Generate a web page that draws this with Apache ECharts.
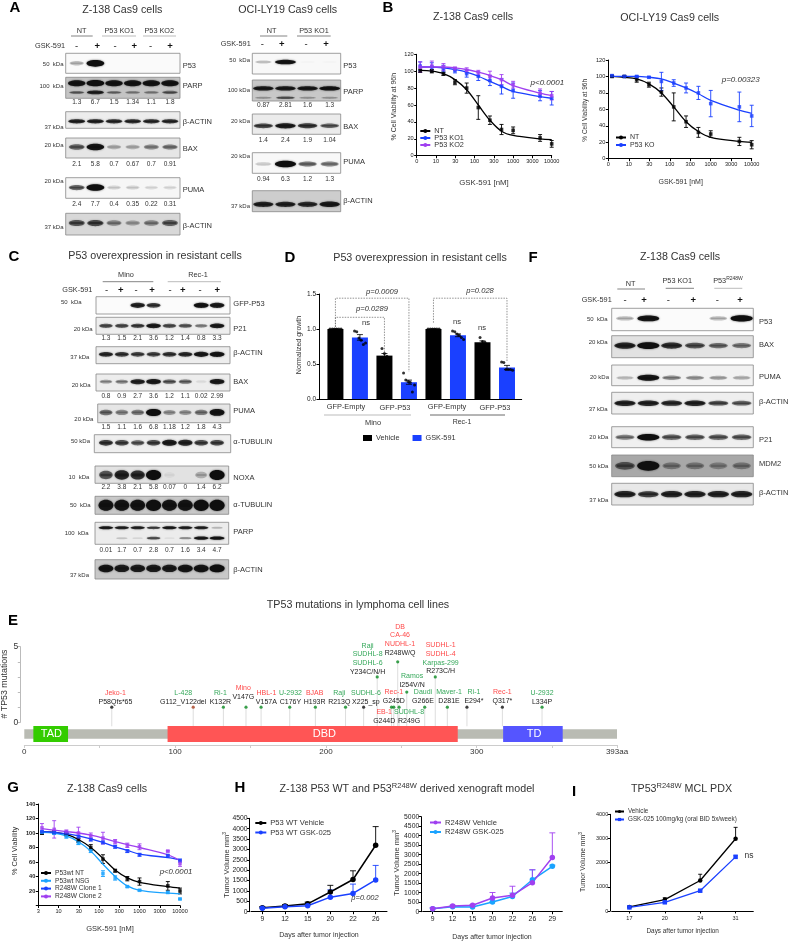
<!DOCTYPE html>
<html><head><meta charset="utf-8">
<style>html,body{margin:0;padding:0;background:#fff}#c{width:791px;height:941px}</style>
<script src="https://cdn.jsdelivr.net/npm/echarts@6/dist/echarts.min.js"></script>
</head><body><div id="c"></div>
<script>
// ---------- data: western blot band intensities (0-1) per lane, quantification labels ----------
const a1P53=[.3,1,0,0,0,0], a1ParpUp=[.95,1,.95,.95,.95,.95], a1ParpLow=[.5,.85,.45,.4,.4,.55], a1Actin=[.85,.85,.8,.8,.8,.8],
      a1Bax=[.6,.95,.3,.3,.45,.5], a1Puma=[.6,1,.2,.2,.15,.15], a1Actin2=[.65,.7,.45,.35,.45,.6];
const a1QParp=['1.3','6.7','1.5','1.34','1.1','1.8'], a1QBax=['2.1','5.8','0.7','0.67','0.7','0.91'], a1QPuma=['2.4','7.7','0.4','0.35','0.22','0.31'];
const a2P53=[.25,.95,.03,.03], a2ParpUp=[.9,.9,.9,.95], a2ParpLow=[.3,.6,.3,.3], a2Bax=[.7,.9,.75,.6], a2Puma=[.2,1,.55,.5], a2Actin=[.85,.85,.8,.9];
const a2QParp=['0.87','2.81','1.6','1.3'], a2QBax=['1.4','2.4','1.9','1.04'], a2QPuma=['0.94','6.3','1.2','1.3'];
const cGfp=[0,0,.85,.75,0,0,.95,.9], cP21=[.65,.65,.7,.9,.65,.6,.45,.9], cActin=[.8,.75,.7,.7,.75,.8,.9,.95], cBax=[.4,.45,.85,.9,.6,.55,.1,.9],
      cPuma=[.55,.45,.5,1,.4,.4,.5,.95], cTub=[.75,.7,.6,.7,.9,.85,.7,.7], cNoxa=[.65,.85,.8,1,.08,0,.3,1], cTub2=[.95,.95,.95,1,.95,.95,1,1],
      cParpUp=[.9,.85,.85,.7,.9,.85,.85,.25], cParpLow=[0,.2,.12,.65,.08,.4,.9,.95], cActin2=[.95,.9,.9,.9,.9,.95,.95,1];
const cQP21=['1.3','1.5','2.1','3.6','1.2','1.4','0.8','3.3'], cQBax=['0.8','0.9','2.7','3.6','1.2','1.1','0.02','2.99'], cQPuma=['1.5','1.1','1.6','6.8','1.18','1.2','1.8','4.3'],
      cQNoxa=['2.2','3.8','2.1','5.8','0.07','0','1.4','6.2'], cQParp=['0.01','1.7','0.7','2.8','0.7','1.6','3.4','4.7'];
const fP53=[.3,.95,0,0,.3,1], fBax=[.85,1,.8,.65,.55,.5], fPuma=[.25,.95,.45,.4,.35,.3], fActin=[.85,.85,.8,.85,.65,.6], fP21=[.5,1,.6,.6,.6,.6], fMdm2=[.6,1,.4,.4,.35,.4], fActin2=[.85,.75,.85,.85,.85,.85];
// ---------- data: dose response ----------
const doses=[3.9,7.8,15.6,31,62.5,125,250,500,1000,5000,10000];
const bTicks=['0','10','30','100','300','1000','3000','10000'];
const gTicks=['3','10','30','100','300','1000','3000','10000'];
const b1NtMean=[100.5,100,97,87,80,57,42,31,30,21,14], b1NtErr=[2,2,2,3,6,14,5,6,4,4,4], b1NtFit=[101,100,97,90,78,60,42,29,24,20,19];
const b1Ko1Mean=[106,105,103,101,97,94,89,82,77,71,68], b1Ko1Err=[5,5,4,3,4,5,6,9,9,6,8], b1Ko1Fit=[105,105,104,102,99,94,88,82,76,70,68];
const b1Ko2Mean=[105,106,105,103,101,98,94,90,84,74,71], b1Ko2Err=[6,6,4,2,3,3,6,6,4,5,5], b1Ko2Fit=[105,105,105,104,102,99,95,90,83,74,71];
const b2NtMean=[100,100,96,90,81,63,45,32,30,21,17], b2NtErr=[1,1,3,3,5,17,7,6,4,5,5], b2NtFit=[100,99,97,91,80,63,45,33,26,21,20];
const b2KoMean=[101,100,100,99,94,92,86,80,67,63,52], b2KoErr=[1,1,1,1,11,4,6,8,16,18,13], b2KoFit=[100,100,100,99,97,92,86,79,71,59,55];
const gNtMean=[100,101,98,90,80,64,48,37,33,27,20], gNtErr=[2,2,2,3,4,6,2,3,5,6,4], gNtFit=[102,101,98,91,80,65,49,38,32,26,24];
const gNsgMean=[101,100,95,86,75,44,38,26,21,18,9], gNsgErr=[1,2,2,2,2,4,3,1,1,1,1], gNsgFit=[101,100,96,88,75,57,40,27,21,17,16];
const gC1Mean=[102,101,100,95,91,87,81,75,70,69,62], gC1Err=[1,1,1,2,2,2,2,2,2,1,2], gC1Fit=[102,101,99,96,92,87,81,76,71,66,63];
const gC2Mean=[107,105,102,100,96,93,88,83,81,75,58], gC2Err=[6,12,2,8,4,8,3,3,4,1,4], gC2Fit=[106,104,102,100,97,93,88,84,80,70,62];
// ---------- data: panel D ----------
const dVehicle=[1,.62,1,.81], dVehicleErr=[0,.03,0,.02], dGsk=[.88,.24,.91,.45], dGskErr=[.04,.03,.02,.03];
const dDots=[[1,1,1,1,1,1],[.97,.96,.87,.84,.78,.8],[.72,.65,.61],[.37,.27,.25,.24,.1,.2],[1,1,1,1,1,1],[.97,.96,.93,.91,.88,.85],[.88,.82,.81],[.53,.52,.42,.42,.42,.41]];
const dBrackets=[[0,3,1.44,1.03,.39],[0,2,1.167,1.03,.65],[4,7,1.44,1.09,.53]];
// ---------- data: panel E ----------
const eMutNames=['P58Qfs*65','G112_V122del','K132R','V147G','V157A','C176Y','H193R','R213Q','X225_sp','Y234C/N/H','G245D','G244D','R248W/Q','R249G','I254V/N','G266E','R273C/H','D281E','E294*','Q317*','L334P'];
const eMutPos=[58,112,132,147,157,176,193,213,225,234,245,243.5,247.6,248.5,253.6,265.5,272.5,280.5,293.5,317,343.3];
const eMutCount=[1,1,1,1,1,1,1,1,1,3,1,1,4,1,2,1,3,1,1,1,1];
const R='#ff4a4a',G='#35a85a',K='#111',B='#a84020',DG='#0a8a20';
const eDotColor=[K,B,DG,DG,DG,DG,DG,DG,K,DG,DG,DG,DG,DG,DG,DG,DG,DG,K,K,DG];
const eCells=[[['Jeko-1',R]],[['L-428',G]],[['Ri-1',G]],[['Mino',R]],[['HBL-1',R]],[['U-2932',G]],[['BJAB',R]],[['Raji',G]],[['SUDHL-6',G]],
 [['SUDHL-6',G],['SUDHL-8',G],['Raji',G]],[['Rec-1',R]],[['EB-1',R]],[['NUDHL-1',R],['CA-46',R],['DB',R]],[['SUDHL-8',G]],[['Ramos',G]],[['Daudi',G]],
 [['Karpas-299',G],['SUDHL-4',R],['SUDHL-1',R]],[['Maver-1',G]],[['Ri-1',G]],[['Rec-1',R]],[['U-2932',G]]];
const eLabelDx=[3.7,-10,-3,-2.7,5.3,.7,-.7,-6.3,2.3,-9.6,0,-7.3,2.3,10,5.3,-1.7,5.4,1.7,7,0,0];
const eLabelDy=[-5.6,-5.6,-5.6,-10,-5.6,-5.6,-5.6,-5.6,-5.6,-5,-6,14,-9,14,-7,-6,-5.4,-6,-6,-6,-5.6];
const eDomStart=[6,95,317.5], eDomEnd=[29,287.4,357], eDomName=['TAD','DBD','TD'], eDomColor=['#33cc00','#ff5555','#5555ff'], eDomLabelPos=[18,199,338];
const eProteinLength=393;
// ---------- data: tumour growth ----------
const hLeftDays=['9','12','15','20','22','26'];
const hWtVeh=[190,280,380,950,1550,3200], hWtVehErr=[60,60,80,320,420,900], hWtGsk=[170,240,290,700,880,1530], hWtGskErr=[30,40,60,350,450,700];
const hRightDays=['9','12','15','20','22','26','29'];
const hMutVeh=[160,300,340,720,860,1530,2850], hMutVehErr=[60,40,40,290,480,680,1300], hMutGsk=[150,260,250,510,800,1680,2390], hMutGskErr=[30,30,40,40,180,520,60];
const iDays=['17','20','24','31'];
const iVeh=[170,470,1260,2990], iVehErr=[30,80,260,470], iGsk=[150,360,840,2240], iGskErr=[20,30,40,60];

// ---------- helpers ----------
const FF='Liberation Sans', TXT='#333', BLACK='#000', BLUE='#1a40ff', PURPLE='#a040f0', CYAN='#1aa3ff';
const grids=[],xAxes=[],yAxes=[],series=[],legends=[],gfx=[];
function addGrid(x0,x1,y0,y1){grids.push({left:x0,top:y0,width:x1-x0,height:y1-y0,containLabel:false});return grids.length-1;}
function text(x,y,str,o={}){
  const size=o.size||7;
  const st={text:str,fill:o.color||TXT,fontFamily:FF,fontSize:size,fontStyle:o.italic?'italic':'normal',fontWeight:o.bold?'bold':'normal',
    font:`${o.italic?'italic ':''}${o.bold?'bold ':''}${size}px "${FF}"`,
    align:o.align||'center',verticalAlign:'middle',textAlign:o.align||'center',textVerticalAlign:'middle'};
  if(o.rich)st.rich=o.rich;
  gfx.push({type:'text',x,y,rotation:o.rot||0,silent:true,style:st});
}
function rule(x1,x2,y,color){gfx.push({type:'line',silent:true,shape:{x1,y1:y,x2,y2:y},style:{stroke:color||'#666',lineWidth:.8}});}
function supRich(size,sup,raise){const r=raise||3;return {a:{fontSize:size,fontFamily:FF,fill:TXT,lineHeight:sup+2*r},s:{fontSize:sup,fontFamily:FF,fill:TXT,lineHeight:sup,verticalAlign:'top'}};}

function blot(c){
  const n=c.bands[0].lanes.length;
  const g=addGrid(c.l,c.r,c.y0,c.y1);
  const quant=c.quant||Array(n).fill('');
  xAxes.push({gridIndex:g,type:'category',data:quant,boundaryGap:true,axisLine:{show:false},axisTick:{show:false},splitLine:{show:false},
    axisLabel:{show:!!c.quant,interval:0,fontSize:6.5,color:TXT,fontFamily:FF,margin:Math.max(0,(c.qy||0)-c.y1-3.5)}});
  yAxes.push({gridIndex:g,type:'value',min:0,max:1,show:false});
  const rows=[];
  c.bands.forEach(b=>b.lanes.forEach((v,i)=>rows.push([i,b.y,v,b.t])));
  const bg=c.bg, fx0=c.x0, fx1=c.x1, y0=c.y0, h=c.y1-c.y0;
  series.push({type:'custom',name:'blot '+c.name,xAxisIndex:g,yAxisIndex:g,silent:true,encode:{x:0,y:1},data:rows,
    renderItem:(p,api)=>{
      const kids=[];
      if(p.dataIndex===0)kids.push({type:'rect',shape:{x:fx0,y:y0,width:fx1-fx0,height:h},style:{fill:bg,stroke:'#888',lineWidth:.8}});
      const v=api.value(2);
      if(v>0){
        const pt=api.coord([api.value(0),api.value(1)]),band=api.size([1,0])[0];
        const w=band*(.68+.27*v),th=api.value(3)*h*(.55+.5*v),op=Math.pow(v,1.25);
        const blur={fill:`rgba(15,15,15,${op})`,shadowBlur:2,shadowColor:`rgba(15,15,15,${op*.7})`};
        kids.push({type:'ellipse',shape:{cx:pt[0],cy:pt[1],rx:w/2,ry:th/2},style:blur});
        kids.push({type:'rect',shape:{x:pt[0]-w*.42,y:pt[1]-th*.16,width:w*.84,height:th*.32,r:th*.16},style:{fill:`rgba(15,15,15,${op*.8})`}});
      }
      return {type:'group',children:kids};
    }});
  text(c.nx,c.ny,c.name,{size:7.5,align:'left'});
  if(c.kda)text(c.kx,c.ky,c.kda,{size:6,align:'right'});
}
function axisBase(g,extra){return Object.assign({gridIndex:g,axisLine:{show:true,onZero:false,lineStyle:{color:'#000',width:1}},axisTick:{show:true,length:2.5,lineStyle:{color:'#000',width:1}},splitLine:{show:false},
  axisLabel:{fontSize:6,color:'#222',fontFamily:FF,margin:3}},extra);}
function errSeries(g,pts,color,lower,cap,w){
  series.push({type:'custom',name:'err',xAxisIndex:g,yAxisIndex:g,silent:true,encode:{x:0,y:1},data:pts,z:3,
    renderItem:(p,api)=>{
      const x=api.value(0),m=api.value(1),e=api.value(2);
      const hi=api.coord([x,m+e]),lo=api.coord([x,lower?m-e:m]);
      const style={stroke:color,lineWidth:w||.9,fill:'none'};
      const kids=[{type:'line',shape:{x1:hi[0],y1:hi[1],x2:lo[0],y2:lo[1]},style},
        {type:'line',shape:{x1:hi[0]-cap,y1:hi[1],x2:hi[0]+cap,y2:hi[1]},style}];
      if(lower)kids.push({type:'line',shape:{x1:lo[0]-cap,y1:lo[1],x2:lo[0]+cap,y2:lo[1]},style});
      return {type:'group',children:kids};
    }});
}
function doseCurve(g,name,color,mean,err,fit){
  const lx=doses.map(d=>Math.log10(d));
  errSeries(g,lx.map((x,i)=>[x,mean[i],err[i]]),color,true,2,.9);
  series.push({type:'line',name,xAxisIndex:g,yAxisIndex:g,data:lx.map((x,i)=>[x,fit[i]]),smooth:.35,showSymbol:false,symbol:'circle',symbolSize:3.5,lineStyle:{color,width:1.3},itemStyle:{color},z:4});
  series.push({type:'scatter',name:name+' points',xAxisIndex:g,yAxisIndex:g,data:lx.map((x,i)=>[x,mean[i]]),symbol:'rect',symbolSize:3.6,itemStyle:{color},z:5,silent:true});
}
function doseAxes(g,ticks,yMax,yInt,hideZero){
  xAxes.push(axisBase(g,{type:'value',min:.5,max:4,interval:.5,axisLabel:{fontSize:5.6,color:'#222',fontFamily:FF,margin:3,formatter:v=>ticks[Math.round((v-.5)/.5)]}}));
  const y=axisBase(g,{type:'value',min:0,max:yMax,interval:yInt});
  y.axisLabel.fontSize=5.6;
  if(hideZero)y.axisLabel.formatter=v=>v===0?'':v;
  yAxes.push(y);
}
function legend(left,top,names,o={}){
  legends.push({show:true,left,top,orient:o.orient||'vertical',padding:0,itemGap:o.gap===undefined?0.5:o.gap,itemWidth:o.w||10,itemHeight:o.h||5,selectedMode:false,data:names.map(n=>o.icon?{name:n,icon:o.icon}:{name:n}),
    textStyle:{fontSize:o.size||7,color:TXT,fontFamily:FF,padding:[0,0,0,-1]}});
}
function growth(g,data,err,name,color,symbol,size,cap,lw){
  errSeries(g,data.map((v,i)=>[i,v,err[i]]),color,false,cap||3,.9);
  series.push({type:'line',name,xAxisIndex:g,yAxisIndex:g,data:data.map((v,i)=>[i,v]),symbol,symbolSize:size,lineStyle:{color,width:lw||1.5},itemStyle:{color},z:4});
}
function catAxes(g,cats,yMax,yInt,size){
  xAxes.push(axisBase(g,{type:'category',data:cats,boundaryGap:true,axisTick:{show:true,alignWithLabel:true,length:2.5,lineStyle:{color:'#000'}},axisLabel:{fontSize:size||6.8,color:'#222',fontFamily:FF,margin:4,interval:0}}));
  yAxes.push(axisBase(g,{type:'value',min:0,max:yMax,interval:yInt,offset:1.5,axisLabel:{fontSize:size||6.8,color:'#222',fontFamily:FF,margin:2,formatter:v=>String(v)}}));
}

// ---------- panel letters and titles ----------
[['A',15,8],['B',388,8],['C',14,257],['D',290,258],['F',533,258],['E',13,621],['G',13,788],['H',240,788],['I',574,792]].forEach(l=>text(l[1],l[2],l[0],{size:15,bold:true,color:'#000'}));
const T=10.7;
text(122.3,10,'Z-138 Cas9 cells',{size:T});text(287.7,10,'OCI-LY19 Cas9 cells',{size:T});
text(473,17,'Z-138 Cas9 cells',{size:T});text(669.7,18,'OCI-LY19 Cas9 cells',{size:T});
text(155,256,'P53 overexpression in resistant cells',{size:T});text(420,258,'P53 overexpression in resistant cells',{size:T});
text(680,257,'Z-138 Cas9 cells',{size:T});
text(358,604.7,'TP53 mutations in lymphoma cell lines',{size:T});
text(107,789,'Z-138 Cas9 cells',{size:T});
text(407,789,'{a|Z-138 P53 WT and P53}{s|R248W}{a| derived xenograft model}',{rich:supRich(T,7.5)});
text(681.5,789,'{a|TP53}{s|R248W}{a| MCL PDX}',{rich:supRich(T,7.5)});

// ---------- blot headers ----------
function header(groups,gskX,gskY,signs,signY){
  groups.forEach(g=>{if(g.rich)text(g.c,g.y,g.t,{size:7,rich:g.rich});else text(g.c,g.y,g.t,{size:7.3});rule(g.a,g.b,g.ly,g.lc);});
  text(gskX,gskY,'GSK-591',{size:7.3,align:'right'});
  signs.forEach((x,i)=>text(x,signY,i%2?'+':'-',{size:9.5,color:'#111',bold:i%2===1}));
}
header([{t:'NT',c:81.7,y:30.7,a:71,b:92.7,ly:36},{t:'P53 KO1',c:119.3,y:30.7,a:102,b:136,ly:36,lc:'#aaa'},{t:'P53 KO2',c:159.3,y:30.7,a:143,b:176,ly:36,lc:'#aaa'}],65,46,[76.7,97.3,115,134.3,150.7,170],46);
header([{t:'NT',c:271.7,y:31,a:260,b:287.3,ly:36},{t:'P53 KO1',c:314,y:31,a:297,b:330.7,ly:36}],250.7,44,[262.3,281.7,306,326],44);
header([{t:'Mino',c:126,y:275,a:102.7,b:153.3,ly:281.7},{t:'Rec-1',c:198,y:275,a:167.7,b:221,ly:281.7,lc:'#aaa'}],92.3,290,[106.7,120.7,136,152,170,182.7,200,217.3],290.5);
header([{t:'NT',c:630.7,y:284,a:617.3,b:645,ly:289},{t:'P53 KO1',c:677.3,y:281,a:665.7,b:694,ly:288.3},{t:'{a|P53}{s|R248W}',c:728,y:281,a:714.3,b:742.3,ly:288.3,lc:'#aaa',rich:supRich(7.3,5,2.2)}],611.7,300,[625,644,668.3,693.3,717.3,740],300);

// ---------- panel A blots ----------
const A1={x0:65.7,x1:180,l:67.4,r:179.3,nx:182.7}, A2={x0:252.3,x1:340.7,l:252.3,r:340.7,nx:343.3};
blot({...A1,y0:53.3,y1:73.3,bg:'#fafafa',name:'P53',ny:66,kda:'50  kDa',kx:63.5,ky:64,bands:[{lanes:a1P53,y:.5,t:.32}]});
blot({...A1,y0:77.3,y1:98.3,bg:'#c4c4c4',name:'PARP',ny:86,kda:'100  kDa',kx:63.5,ky:86,quant:a1QParp,qy:102,bands:[{lanes:a1ParpUp,y:.72,t:.28},{lanes:a1ParpLow,y:.28,t:.18}]});
blot({...A1,y0:111.7,y1:128.3,bg:'#ededed',name:'β-ACTIN',ny:121.7,kda:'37 kDa',kx:63.5,ky:127.7,bands:[{lanes:a1Actin,y:.42,t:.26}]});
blot({...A1,y0:138,y1:158,bg:'#e6e6e6',name:'BAX',ny:149,kda:'20 kDa',kx:63.5,ky:145,quant:a1QBax,qy:164,bands:[{lanes:a1Bax,y:.55,t:.32}]});
blot({...A1,y0:177.7,y1:198.3,bg:'#f6f6f6',name:'PUMA',ny:190,kda:'20 kDa',kx:63.5,ky:181,quant:a1QPuma,qy:204,bands:[{lanes:a1Puma,y:.52,t:.3}]});
blot({...A1,y0:213.3,y1:235,bg:'#d8d8d8',name:'β-ACTIN',ny:225.7,kda:'37 kDa',kx:63.5,ky:227,bands:[{lanes:a1Actin2,y:.55,t:.32}]});
blot({...A2,y0:53.3,y1:74,bg:'#f8f8f8',name:'P53',ny:66,kda:'50  kDa',kx:250,ky:60.7,bands:[{lanes:a2P53,y:.58,t:.22}]});
blot({...A2,y0:80,y1:101,bg:'#c8c8c8',name:'PARP',ny:91.7,kda:'100 kDa',kx:250,ky:90,quant:a2QParp,qy:105.3,bands:[{lanes:a2ParpUp,y:.6,t:.2},{lanes:a2ParpLow,y:.15,t:.14}]});
blot({...A2,y0:114,y1:134.3,bg:'#ebebeb',name:'BAX',ny:126.7,kda:'20 kDa',kx:250,ky:121.3,quant:a2QBax,qy:140.3,bands:[{lanes:a2Bax,y:.42,t:.26}]});
blot({...A2,y0:152.7,y1:173.3,bg:'#f8f8f8',name:'PUMA',ny:162.3,kda:'20 kDa',kx:250,ky:156.7,quant:a2QPuma,qy:179,bands:[{lanes:a2Puma,y:.45,t:.3}]});
blot({...A2,y0:190.7,y1:211.7,bg:'#cdcdcd',name:'β-ACTIN',ny:201.3,kda:'37 kDa',kx:250,ky:206,bands:[{lanes:a2Actin,y:.35,t:.26}]});

// ---------- panel C blots ----------
const C1={x0:96,x1:230,l:98,r:225,nx:233.3}, C2={x0:95,x1:228.7,l:98,r:225,nx:233.3};
blot({...C1,y0:296.7,y1:314,bg:'#fbfbfb',name:'GFP-P53',ny:304,kda:'50  kDa',kx:81.7,ky:302.7,bands:[{lanes:cGfp,y:.5,t:.3}]});
blot({...C1,y0:317.3,y1:334.3,bg:'#eeeeee',name:'P21',ny:329.3,kda:'20 kDa',kx:92.7,ky:329,quant:cQP21,qy:338,bands:[{lanes:cP21,y:.5,t:.28}]});
blot({...C1,y0:346.7,y1:363.7,bg:'#ededed',name:'β-ACTIN',ny:353,kda:'37 kDa',kx:89.3,ky:357.7,bands:[{lanes:cActin,y:.55,t:.3}]});
blot({...C1,y0:374,y1:391,bg:'#ededed',name:'BAX',ny:381.7,kda:'20 kDa',kx:90.7,ky:385.7,quant:cQBax,qy:396,bands:[{lanes:cBax,y:.55,t:.3}]});
blot({...C1,x0:97.7,y0:404,y1:422.7,bg:'#e6e6e6',name:'PUMA',ny:410.7,kda:'20 kDa',kx:93.3,ky:419,quant:cQPuma,qy:427.3,bands:[{lanes:cPuma,y:.55,t:.36}]});
blot({...C1,x0:94.3,x1:230.7,y0:434.7,y1:452.7,bg:'#efefef',name:'α-TUBULIN',ny:441.7,kda:'50 kDa',kx:90,ky:441.7,bands:[{lanes:cTub,y:.55,t:.34}]});
blot({...C2,y0:466,y1:483.3,bg:'#e2e2e2',name:'NOXA',ny:477.7,kda:'10  kDa',kx:89.3,ky:477.3,quant:cQNoxa,qy:486.7,bands:[{lanes:cNoxa,y:.48,t:.55}]});
blot({...C2,y0:496.3,y1:514.3,bg:'#c8c8c8',name:'α-TUBULIN',ny:505,kda:'50  kDa',kx:90.7,ky:505,bands:[{lanes:cTub2,y:.5,t:.6}]});
blot({...C2,y0:522.3,y1:544.3,bg:'#ececec',name:'PARP',ny:532,kda:'100  kDa',kx:88.7,ky:533,quant:cQParp,qy:550.7,bands:[{lanes:cParpUp,y:.75,t:.14},{lanes:cParpLow,y:.28,t:.14}]});
blot({...C2,y0:559.7,y1:579,bg:'#c8c8c8',name:'β-ACTIN',ny:570,kda:'37 kDa',kx:89,ky:575,bands:[{lanes:cActin2,y:.55,t:.38}]});

// ---------- panel F blots ----------
const F1={x0:611.7,x1:753.3,l:613.3,r:753.3,nx:759};
blot({...F1,y0:308.3,y1:330.7,bg:'#fbfbfb',name:'P53',ny:321.7,kda:'50  kDa',kx:607.7,ky:319,bands:[{lanes:fP53,y:.55,t:.26}]});
blot({...F1,y0:335.7,y1:357.7,bg:'#e2e2e2',name:'BAX',ny:345,kda:'20 kDa',kx:607.7,ky:342.3,bands:[{lanes:fBax,y:.55,t:.3}]});
blot({...F1,y0:365,y1:385.7,bg:'#f2f2f2',name:'PUMA',ny:376.7,kda:'20 kDa',kx:609,ky:377.7,bands:[{lanes:fPuma,y:.38,t:.28}]});
blot({...F1,y0:392.3,y1:414,bg:'#efefef',name:'β-ACTIN',ny:401.7,kda:'37 kDa',kx:607.7,ky:409,bands:[{lanes:fActin,y:.5,t:.26}]});
blot({...F1,y0:426.7,y1:447.7,bg:'#f0f0f0',name:'P21',ny:440,kda:'20 kDa',kx:608.3,ky:437.7,bands:[{lanes:fP21,y:.5,t:.3}]});
blot({...F1,y0:455,y1:476.7,bg:'#a8a8a8',name:'MDM2',ny:464.3,kda:'50 kDa',kx:608.3,ky:466.7,bands:[{lanes:fMdm2,y:.5,t:.42}]});
blot({...F1,y0:483.3,y1:505,bg:'#e8e8e8',name:'β-ACTIN',ny:493.3,kda:'37 kDa',kx:608.3,ky:500,bands:[{lanes:fActin2,y:.5,t:.3}]});

// ---------- panel B ----------
let g=addGrid(416.7,551.7,54.3,155.7);
doseAxes(g,bTicks,120,20);
doseCurve(g,'NT',BLACK,b1NtMean,b1NtErr,b1NtFit);
doseCurve(g,'P53 KO1',BLUE,b1Ko1Mean,b1Ko1Err,b1Ko1Fit);
doseCurve(g,'P53 KO2',PURPLE,b1Ko2Mean,b1Ko2Err,b1Ko2Fit);
legend(419.3,127.5,['NT','P53 KO1','P53 KO2'],{size:7.3,gap:0});
text(547.3,82.3,'p<0.0001',{size:8,italic:true});
text(394,106.7,'% Cell Viability at 96h',{size:7,rot:Math.PI/2});
text(484,182.7,'GSK-591 [nM]',{size:7.8});
g=addGrid(608.3,751.7,60,158.7);
doseAxes(g,bTicks,120,20);
doseCurve(g,'NT ',BLACK,b2NtMean,b2NtErr,b2NtFit);
doseCurve(g,'P53 KO',BLUE,b2KoMean,b2KoErr,b2KoFit);
legend(615,134,['NT ','P53 KO'],{size:7,gap:.5});
text(740.7,79.3,'p=0.00323',{size:8,italic:true});
text(585.3,110.3,'% Cell Viability at 96h',{size:6.5,rot:Math.PI/2});
text(680.7,182,'GSK-591 [nM]',{size:7});

// ---------- panel D ----------
g=addGrid(319,521.7,294,399);
const dOff=.67, dSlots=[0,2,4,6], dGskSlots=[1,3,5,7];
xAxes.push(axisBase(g,{type:'value',min:0,max:8.27,axisTick:{show:false},axisLabel:{show:false}}));
yAxes.push(axisBase(g,{type:'value',min:0,max:1.5,interval:.5,axisLabel:{fontSize:6.5,color:'#222',fontFamily:FF,margin:3,formatter:v=>v.toFixed(1)}}));
series.push({type:'bar',name:'Vehicle',xAxisIndex:g,yAxisIndex:g,barWidth:16,barGap:'-100%',data:dVehicle.map((v,i)=>[dSlots[i]+dOff,v]),itemStyle:{color:'#000'}});
series.push({type:'bar',name:'GSK-591',xAxisIndex:g,yAxisIndex:g,barWidth:16,barGap:'-100%',data:dGsk.map((v,i)=>[dGskSlots[i]+dOff,v]),itemStyle:{color:BLUE}});
errSeries(g,dVehicle.map((v,i)=>[dSlots[i]+dOff,v,dVehicleErr[i]]),'#000',true,3,.8);
errSeries(g,dGsk.map((v,i)=>[dGskSlots[i]+dOff,v,dGskErr[i]]),'#000',true,3,.8);
const jitter={6:[-.22,-.13,-.04,.05,.14,.23],3:[-.1,0,.1]};
series.push({type:'scatter',name:'replicates',xAxisIndex:g,yAxisIndex:g,symbolSize:3,silent:true,z:6,itemStyle:{color:'#000'},
  data:dDots.flatMap((vals,b)=>vals.map((v,j)=>[b+dOff+jitter[vals.length][j],v]))});
series.push({type:'custom',name:'brackets',xAxisIndex:g,yAxisIndex:g,silent:true,encode:{x:0,y:2},data:dBrackets,z:7,
  renderItem:(p,api)=>{
    const a=api.value(0)+dOff,b=api.value(1)+dOff,top=api.value(2),l=api.value(3),r=api.value(4);
    const pts=[[a,l],[a,top],[b,top],[b,r]].map(q=>api.coord(q));
    return {type:'polyline',shape:{points:pts},style:{stroke:'#666',lineWidth:.7,fill:'none',lineDash:[1.5,1.2]}};
  }});
legend(363,434.5,['Vehicle','GSK-591'],{orient:'horizontal',icon:'rect',w:9,h:6,gap:13,size:7.3});
[['p=0.0009',382,292],['p=0.0289',372,309],['p=0.028',480,291]].forEach(t=>text(t[1],t[2],t[0],{size:7.6,italic:true}));
[[366,323],[457,322],[482,328]].forEach(t=>text(t[0],t[1],'ns',{size:7.6}));
[['GFP-Empty',346],['GFP-P53',395],['GFP-Empty',447],['GFP-P53',495]].forEach((t,i)=>text(t[1],i%2?408:407,t[0],{size:7.4}));
rule(324,411,415,'#aaa');rule(430,505,415,'#444');
text(373,423,'Mino',{size:7.4});text(462,422,'Rec-1',{size:7});
text(299.3,345,'Normalized growth',{size:7,rot:Math.PI/2});

// ---------- panel E ----------
g=addGrid(24.3,617,646.7,722.3);
xAxes.push({gridIndex:g,type:'value',min:0,max:eProteinLength,show:false});
yAxes.push({gridIndex:g,type:'value',min:0,max:5,interval:1,offset:4,axisLine:{show:true,onZero:false,lineStyle:{color:'#bbb'}},axisTick:{show:true,length:2.5,lineStyle:{color:'#bbb'}},splitLine:{show:false},
  axisLabel:{fontSize:8.5,color:TXT,fontFamily:FF,margin:2,formatter:v=>v%5===0?v:''}});
series.push({type:'custom',name:'stems',xAxisIndex:g,yAxisIndex:g,silent:true,encode:{x:0,y:1},data:eMutPos.map((x,i)=>[x,eMutCount[i]]),
  renderItem:(p,api)=>{
    const a=api.coord([api.value(0),api.value(1)]),b=api.coord([api.value(0),0]);
    return {type:'line',shape:{x1:a[0],y1:a[1],x2:a[0],y2:b[1]+4},style:{stroke:'#ddd',lineWidth:1}};
  }});
series.push({type:'scatter',name:'mutations',xAxisIndex:g,yAxisIndex:g,symbolSize:3.2,silent:true,z:5,
  data:eMutPos.map((x,i)=>({value:[x,eMutCount[i]],itemStyle:{color:eDotColor[i]}}))});
series.push({type:'custom',name:'mutation labels',xAxisIndex:g,yAxisIndex:g,silent:true,encode:{x:0,y:1},z:6,data:eMutPos.map((x,i)=>[x,eMutCount[i]]),
  renderItem:(p,api)=>{
    const i=p.dataIndex,a=api.coord([api.value(0),api.value(1)]);
    const cx=a[0]+eLabelDx[i],cy=a[1]+eLabelDy[i];
    const mk=(t,y,c)=>({type:'text',x:cx,y,style:{text:t,fill:c,font:`7px "${FF}"`,fontSize:7,fontFamily:FF,align:'center',verticalAlign:'middle',textAlign:'center',textVerticalAlign:'middle'}});
    return {type:'group',children:[mk(eMutNames[i],cy,'#222')].concat(eCells[i].map((c,k)=>mk(c[0],cy-8.7*(k+1),c[1])))};
  }});
text(5,684,'# TP53 mutations',{size:8.8,rot:Math.PI/2});
g=addGrid(24.3,617,726,742);
xAxes.push({gridIndex:g,type:'value',min:0,max:eProteinLength,interval:50,offset:3,axisLine:{show:true,onZero:false,lineStyle:{color:'#ccc',width:1}},axisTick:{show:true,length:3,lineStyle:{color:'#ccc'}},splitLine:{show:false},
  axisLabel:{fontSize:8,color:TXT,fontFamily:FF,margin:3,showMaxLabel:true,formatter:v=>v===eProteinLength?v+'aa':(v%100===0?v:'')}});
yAxes.push({gridIndex:g,type:'value',min:0,max:1,show:false});
series.push({type:'custom',name:'backbone',xAxisIndex:g,yAxisIndex:g,silent:true,encode:{x:0},data:[[0,eProteinLength]],
  renderItem:(p,api)=>{
    const a=api.coord([api.value(0),.8]),b=api.coord([api.value(1),.2]);
    return {type:'rect',shape:{x:a[0],y:a[1],width:b[0]-a[0],height:b[1]-a[1]},style:{fill:'#b9bbb3'}};
  }});
series.push({type:'custom',name:'domains',xAxisIndex:g,yAxisIndex:g,silent:true,encode:{x:0},z:3,data:eDomStart.map((s,i)=>[s,eDomEnd[i],eDomLabelPos[i]]),
  renderItem:(p,api)=>{
    const i=p.dataIndex,a=api.coord([api.value(0),1]),b=api.coord([api.value(1),0]),c=api.coord([api.value(2),.5]);
    return {type:'group',children:[{type:'rect',shape:{x:a[0],y:a[1],width:b[0]-a[0],height:b[1]-a[1]},style:{fill:eDomColor[i]}},
      {type:'text',x:c[0],y:c[1],style:{text:eDomName[i],fill:'#fff',font:`11px "${FF}"`,fontSize:11,fontFamily:FF,align:'center',verticalAlign:'middle',textAlign:'center',textVerticalAlign:'middle'}}]};
  }});

// ---------- panel G ----------
g=addGrid(38.3,180,804,905.5);
doseAxes(g,gTicks,140,20,true);
yAxes[g].axisLabel.fontWeight='bold';
doseCurve(g,'P53wt NT',BLACK,gNtMean,gNtErr,gNtFit);
doseCurve(g,'P53wt NSG',CYAN,gNsgMean,gNsgErr,gNsgFit);
doseCurve(g,'R248W Clone 1',BLUE,gC1Mean,gC1Err,gC1Fit);
doseCurve(g,'R248W Clone 2',PURPLE,gC2Mean,gC2Err,gC2Fit);
legend(40,869.5,['P53wt NT','P53wt NSG','R248W Clone 1','R248W Clone 2'],{size:6.6,gap:.8});
text(176,872,'p<0.0001',{size:7.8,italic:true});
text(15,851,'% Cell Viability',{size:7.3,rot:Math.PI/2});
text(110,929,'GSK-591 [nM]',{size:7.5});

// ---------- panel H ----------
const yTitle=(x,y,s)=>text(x,y,'{a|Tumor Volume mm}{s|3}',{rot:Math.PI/2,rich:supRich(s,5,2.5)});
g=addGrid(251,387,818.3,911.7);
catAxes(g,hLeftDays,4500,500);
growth(g,hWtVeh,hWtVehErr,'P53 WT Vehicle',BLACK,'circle',5.5);
growth(g,hWtGsk,hWtGskErr,'P53 WT GSK-025',BLUE,'circle',5.5);
legend(254.3,819,['P53 WT Vehicle','P53 WT GSK-025'],{size:7.6,gap:1.5,w:11,h:5});
text(365,898,'p=0.002',{size:7.5,italic:true});
yTitle(226.7,865,7.5);
text(319,935,'Days after tumor injection',{size:7});
g=addGrid(422.7,562.3,816.7,911.7);
catAxes(g,hRightDays,5000,500);
growth(g,hMutGsk,hMutGskErr,'R248W GSK-025',CYAN,'circle',5.5);
growth(g,hMutVeh,hMutVehErr,'R248W Vehicle',PURPLE,'circle',5.5);
legend(429,818.5,['R248W Vehicle','R248W GSK-025'],{size:7.6,gap:1.5,w:11,h:5});
yTitle(396.7,863,7.5);
text(492,936.7,'Days after tumor injection',{size:7});

// ---------- panel I ----------
g=addGrid(611.7,753.3,814.3,911);
catAxes(g,iDays,4000,1000,5.5);
growth(g,iVeh,iVehErr,'Vehicle ',BLACK,'circle',4.5,2,1.3);
growth(g,iGsk,iGskErr,'GSK-025 100mg/kg (oral BID 5x/week)',BLUE,'rect',4.5,2,1.3);
legend(614,808.5,['Vehicle ','GSK-025 100mg/kg (oral BID 5x/week)'],{size:6.3,gap:2,w:9,h:4});
text(749,856,'ns',{size:8.5});
yTitle(583.3,862,6.8);
text(682.7,931,'Days after tumor injection',{size:6.4});

const chart=echarts.init(document.getElementById('c'),null,{renderer:'canvas',width:791,height:941});
chart.setOption({animation:false,backgroundColor:'#fff',textStyle:{fontFamily:FF},grid:grids,xAxis:xAxes,yAxis:yAxes,legend:legends,series,graphic:{elements:gfx}});
</script></body></html>
